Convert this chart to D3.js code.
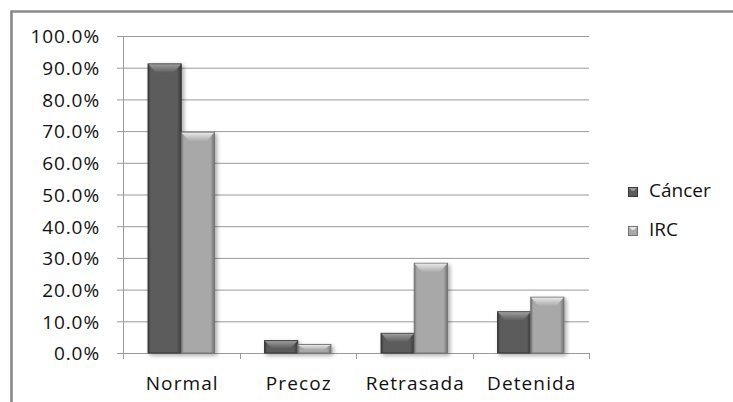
<!DOCTYPE html>
<html>
<head>
<meta charset="utf-8">
<script src="https://cdn.jsdelivr.net/npm/d3@7"></script>
<style>
  html, body { margin: 0; padding: 0; background: #fff; }
  svg { display: block; }
  text { font-family: "Open Sans", sans-serif; fill: #111; }
</style>
</head>
<body>
<svg id="chart" width="733" height="402"></svg>
<script>
// Categories, series and axis ticks
const categories = ["Normal", "Precoz", "Retrasada", "Detenida"];
const seriesNames = ["Cáncer", "IRC"];
const cancerValues = [0.912, 0.039, 0.062, 0.130];
const ircValues = [0.696, 0.027, 0.283, 0.176];
const yTicks = [0, 0.1, 0.2, 0.3, 0.4, 0.5, 0.6, 0.7, 0.8, 0.9, 1.0];

const seriesValues = [cancerValues, ircValues];
const palette = {
  "Cáncer": { body: "#5b5b5b", light: "#9a9a9a", edge: "#383838" },
  "IRC":    { body: "#a8a8a8", light: "#e6e6e6", edge: "#747474" }
};

const svg = d3.select("#chart");
const defs = svg.append("defs");

// soft drop shadow for the bars
const shadow = defs.append("filter").attr("id", "shadow")
  .attr("x", "-30%").attr("y", "-10%").attr("width", "160%").attr("height", "130%");
shadow.append("feGaussianBlur").attr("in", "SourceAlpha").attr("stdDeviation", 2.2);
shadow.append("feOffset").attr("dx", 2).attr("dy", 2).attr("result", "b");
shadow.append("feComponentTransfer").append("feFuncA").attr("type", "linear").attr("slope", 0.35);
const merge = shadow.append("feMerge");
merge.append("feMergeNode");
merge.append("feMergeNode").attr("in", "SourceGraphic");

// bevel gradients per series
seriesNames.forEach((s, i) => {
  const c = palette[s];
  const top = defs.append("linearGradient").attr("id", "top" + i)
    .attr("x1", 0).attr("y1", 0).attr("x2", 0).attr("y2", 1);
  top.append("stop").attr("offset", "0%").attr("stop-color", c.light);
  top.append("stop").attr("offset", "100%").attr("stop-color", c.body);
  const side = defs.append("linearGradient").attr("id", "side" + i)
    .attr("x1", 0).attr("y1", 0).attr("x2", 1).attr("y2", 0);
  side.append("stop").attr("offset", "0%").attr("stop-color", c.edge);
  side.append("stop").attr("offset", "8%").attr("stop-color", c.body);
  side.append("stop").attr("offset", "88%").attr("stop-color", c.body);
  side.append("stop").attr("offset", "100%").attr("stop-color", c.edge);
});

// outer frame (left and top edges)
svg.append("path")
  .attr("d", "M11.5,402 L11.5,11.5 L733,11.5")
  .attr("fill", "none").attr("stroke", "#8a8a8a").attr("stroke-width", 2.6);

const plot = { left: 123, right: 589, top: 36, bottom: 353 };

const x = d3.scaleBand().domain(categories)
  .range([plot.left, plot.right]).paddingInner(0.43).paddingOuter(0.215);
const xs = d3.scaleBand().domain(seriesNames).range([0, x.bandwidth()]);
const y = d3.scaleLinear().domain([0, 1]).range([plot.bottom, plot.top]);

// gridlines and y axis
const yAxis = d3.axisLeft(y).tickValues(yTicks).tickFormat(d3.format(".1%"))
  .tickSize(6).tickPadding(17);
const gy = svg.append("g").attr("transform", `translate(${plot.left},0)`).call(yAxis);
gy.select(".domain").attr("stroke", "#9a9a9a");
gy.selectAll(".tick line").attr("stroke", "#9a9a9a");
gy.selectAll(".tick text").attr("font-size", 19).attr("letter-spacing", 0.9).attr("fill", "#111")
  .attr("font-family", "'Open Sans', sans-serif").attr("dy", "0.36em");
gy.selectAll(".tick").filter(d => d > 0).append("line")
  .attr("x1", 0).attr("x2", plot.right - plot.left)
  .attr("stroke", "#9a9a9a");

// x axis with boundary ticks
const boundaries = categories.map(c => x(c) - x.step() * x.paddingInner() / 2)
  .map((v, i) => i === 0 ? plot.left : v).concat([plot.right]);
const gx = svg.append("g");
gx.append("line").attr("x1", plot.left).attr("x2", plot.right)
  .attr("y1", plot.bottom + 0.5).attr("y2", plot.bottom + 0.5).attr("stroke", "#9a9a9a");
gx.selectAll("line.tk").data(boundaries).join("line").attr("class", "tk")
  .attr("x1", d => Math.round(d) + 0.5).attr("x2", d => Math.round(d) + 0.5)
  .attr("y1", plot.bottom).attr("y2", plot.bottom + 6).attr("stroke", "#9a9a9a");
gx.selectAll("text").data(categories).join("text")
  .attr("x", d => x(d) + x.bandwidth() / 2 + 1)
  .attr("y", 390).attr("text-anchor", "middle")
  .attr("font-size", 19).attr("letter-spacing", 1.1).text(d => d);

// bars with bevelled tops
const bars = svg.append("g").attr("filter", "url(#shadow)");
seriesNames.forEach((s, si) => {
  const c = palette[s];
  const g = bars.append("g");
  categories.forEach((cat, ci) => {
    const v = seriesValues[si][ci];
    const x0 = x(cat) + xs(s);
    const w = xs.bandwidth();
    const y0 = y(v);
    const h = plot.bottom - y0;
    const bar = g.append("g");
    bar.append("rect").attr("x", x0).attr("y", y0).attr("width", w).attr("height", h)
      .attr("fill", `url(#side${si})`).attr("stroke", c.edge).attr("stroke-width", 1);
    const bh = Math.min(9, h * 0.65);
    const inset = Math.min(8, w * 0.24);
    bar.append("path")
      .attr("d", `M${x0 + 0.5},${y0 + 0.5} L${x0 + w - 0.5},${y0 + 0.5} L${x0 + w - inset},${y0 + bh} L${x0 + inset},${y0 + bh} Z`)
      .attr("fill", `url(#top${si})`);
    bar.append("line").attr("x1", x0 + 1).attr("x2", x0 + w - 1)
      .attr("y1", y0 + 1).attr("y2", y0 + 1).attr("stroke", c.light).attr("stroke-opacity", 0.7);
  });
});

// legend
const legend = svg.append("g");
seriesNames.forEach((s, i) => {
  const c = palette[s];
  const ly = 187 + i * 39;
  legend.append("rect").attr("x", 628.5).attr("y", ly + 0.5).attr("width", 9).attr("height", 9)
    .attr("fill", c.body).attr("stroke", c.edge);
  legend.append("path")
    .attr("d", `M629,${ly + 1} L637,${ly + 1} L634,${ly + 4} L632,${ly + 4} Z`)
    .attr("fill", c.light);
  legend.append("text").attr("x", 649).attr("y", ly + 10)
    .attr("font-size", 19).text(s);
});
</script>
</body>
</html>
